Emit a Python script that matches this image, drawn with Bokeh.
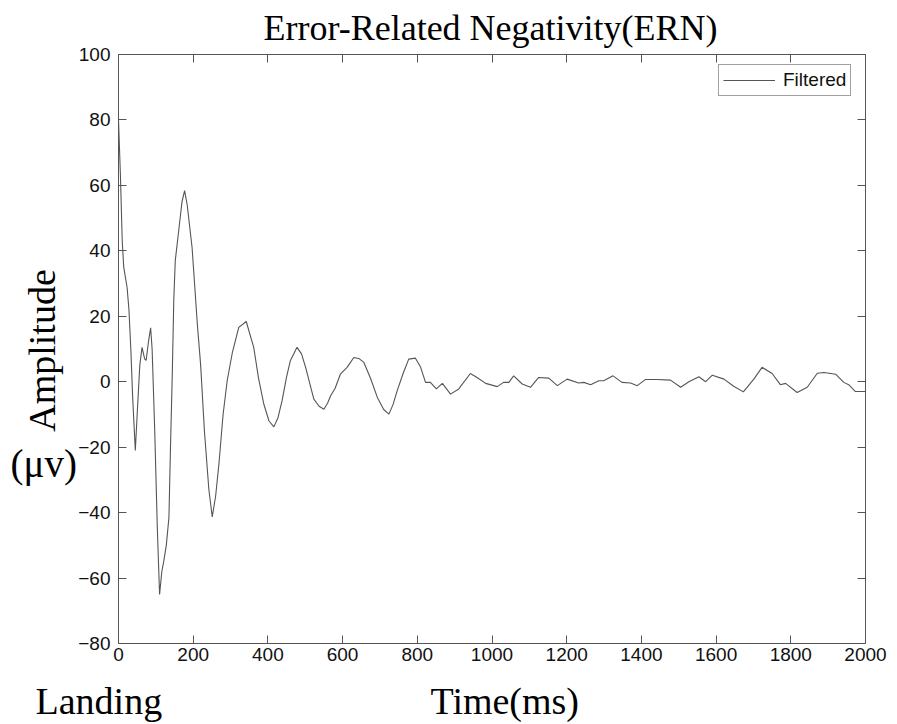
import math
from bokeh.plotting import figure
from bokeh.models import (LinearAxis, Label, Range1d, FixedTicker, Legend, LegendItem,
                          CustomJSTickFormatter)
from bokeh.embed import file_html
from bokeh.resources import INLINE

# ---- data ----
time_ms = [0, 5, 10, 14, 23, 28, 33, 38, 45, 50, 57, 63, 70, 74, 80, 86, 90, 97, 104, 110,
           116, 121, 128, 135, 139, 144, 148, 152, 161, 170, 177, 184, 197, 211, 220, 230, 242,
           251, 260, 269, 280, 291, 305, 322, 342, 362, 375, 389, 403, 416, 427, 438, 450,
           460, 478, 490, 501, 512, 523, 537, 550, 560, 568, 580, 594, 612, 630, 645, 657,
           675, 693, 710, 724, 735, 746, 762, 777, 795, 809, 822, 835, 851, 867, 889, 911,
           942, 960, 983, 1014, 1031, 1045, 1058, 1081, 1103, 1125, 1152, 1175, 1201, 1232,
           1246, 1264, 1286, 1299, 1324, 1348, 1371, 1389, 1411, 1442, 1478, 1505, 1527,
           1554, 1572, 1590, 1621, 1647, 1673, 1701, 1723, 1750, 1772, 1786, 1817, 1844,
           1871, 1889, 1920, 1942, 1955, 1973, 2000]
amplitude = [80, 63.6, 43, 35, 28.8, 22, 10, -5, -21, -10, 5, 10.5, 7, 6.5, 12, 16.5, 10, -15, -45, -65,
             -58, -55, -50, -41.5, -21, 2.4, 25, 37, 46, 55, 58.4, 54, 41, 17.7, 5, -15, -33,
             -41.3, -35, -25, -10, 0.3, 9, 16.6, 18.4, 10.5, 1, -6.8, -12, -13.8, -11, -5.8, 1.5,
             6.4, 10.5, 8.5, 4.4, -0.5, -5.3, -7.5, -8.4, -6.5, -4.3, -2, 2.3, 4.4, 7.4, 7, 5.9,
             1, -4.8, -8.5, -9.9, -7, -2.8, 2.5, 6.9, 7.2, 4.4, -0.2, -0.2, -2.2, -0.5, -3.8, -2.2,
             2.5, 1.3, -0.5, -1.5, -0.2, -0.2, 1.8, -0.7, -1.7, 1.3, 1.1, -1.2, 0.8, -0.4,
             -0.2, -0.9, 0.3, 0.3, 1.8, -0.2, -0.4, -1.2, 0.7, 0.7, 0.5, -1.7, 0,
             1.5, 0, 2, 0.8, -1.4, -3.1, 0.8, 4.4, 2.5, -0.9, -0.5, -3.3, -1.7,
             2.6, 2.8, 2.3, -0.2, -0.9, -3, -3]
x_ticks = [0, 200, 400, 600, 800, 1000, 1200, 1400, 1600, 1800, 2000]
y_ticks = [-80, -60, -40, -20, 0, 20, 40, 60, 80, 100]
x_lim = (0, 2000)
y_lim = (-80, 100)
series_name = "Filtered"
title_text = "Error-Related Negativity(ERN)"
ylabel_text = "Amplitude"
yunit_text = "(\u03bcv)"
xlabel_text = "Time(ms)"
origin_text = "Landing"

# ---- layout (pixels) ----
W, H = 897, 724
BOX_L, BOX_R, BOX_T, BOX_B = 118, 865, 54, 643
AX = "#555555"
SERIF = "Liberation Serif"
SANS = "Liberation Sans"

sx = (BOX_R - BOX_L) / (x_lim[1] - x_lim[0])
sy = (BOX_B - BOX_T) / (y_lim[1] - y_lim[0])
x_range = Range1d(x_lim[0] - BOX_L / sx, x_lim[1] + (W - BOX_R) / sx)
y_range = Range1d(y_lim[0] - (H - BOX_B) / sy, y_lim[1] + BOX_T / sy)

p = figure(width=W, height=H, output_backend="svg", toolbar_location=None,
           x_range=x_range, y_range=y_range,
           min_border=0, min_border_left=0, min_border_right=0,
           min_border_top=0, min_border_bottom=0,
           x_axis_location=None, y_axis_location=None)
p.xgrid.visible = False
p.ygrid.visible = False
p.outline_line_color = None
p.background_fill_color = "white"
p.border_fill_color = "white"

blank = CustomJSTickFormatter(code="return ''")

def make_axis(ticks, loc, bounds, labels=True):
    ax = LinearAxis(fixed_location=loc, bounds=bounds)
    ax.ticker = FixedTicker(ticks=ticks)
    ax.axis_line_color = AX
    ax.axis_line_width = 1
    ax.major_tick_line_color = AX
    ax.major_tick_in = 8
    ax.major_tick_out = 0
    ax.minor_tick_line_color = None
    if labels:
        ax.major_label_text_font = SANS
        ax.major_label_text_font_size = "19px"
        ax.major_label_text_color = "#111111"
    else:
        ax.formatter = blank
    return ax

left = make_axis(y_ticks, x_lim[0], y_lim); left.major_label_standoff = 8
bottom = make_axis(x_ticks, y_lim[0], x_lim); bottom.major_label_standoff = 4
right = make_axis(y_ticks, x_lim[1], y_lim, False)
top = make_axis(x_ticks, y_lim[1], x_lim, False)
p.add_layout(left, "left")
p.add_layout(bottom, "below")
p.add_layout(right, "right")
p.add_layout(top, "above")

r = p.line(time_ms, amplitude, line_color="#555555", line_width=1.1)

legend = Legend(items=[LegendItem(label=series_name, renderers=[r])],
                location=(718, H - 96), margin=0, padding=4, spacing=0,
                label_text_font=SANS, label_text_font_size="19px", label_text_color="#111111",
                glyph_width=52, glyph_height=20, label_height=20, label_standoff=8,
                border_line_color="#444444", border_line_width=1, background_fill_alpha=1)
p.add_layout(legend, "center")

def lab(x, y_top, text, size, align="left", angle=0):
    p.add_layout(Label(x=x, y=H - y_top, x_units="screen", y_units="screen", text=text,
                       text_font=SERIF, text_font_size=size, text_align=align,
                       text_baseline="alphabetic", angle=angle, text_color="#000000"))

lab(490, 27, title_text, "36px", "center")
lab(41, 350, ylabel_text, "38px", "center", angle=math.pi / 2)
lab(10, 463, yunit_text, "39px", "left")
lab(35, 700, origin_text, "38px", "left")
lab(430, 700, xlabel_text, "38px", "left")

open("out.html", "w").write(file_html(p, INLINE))
